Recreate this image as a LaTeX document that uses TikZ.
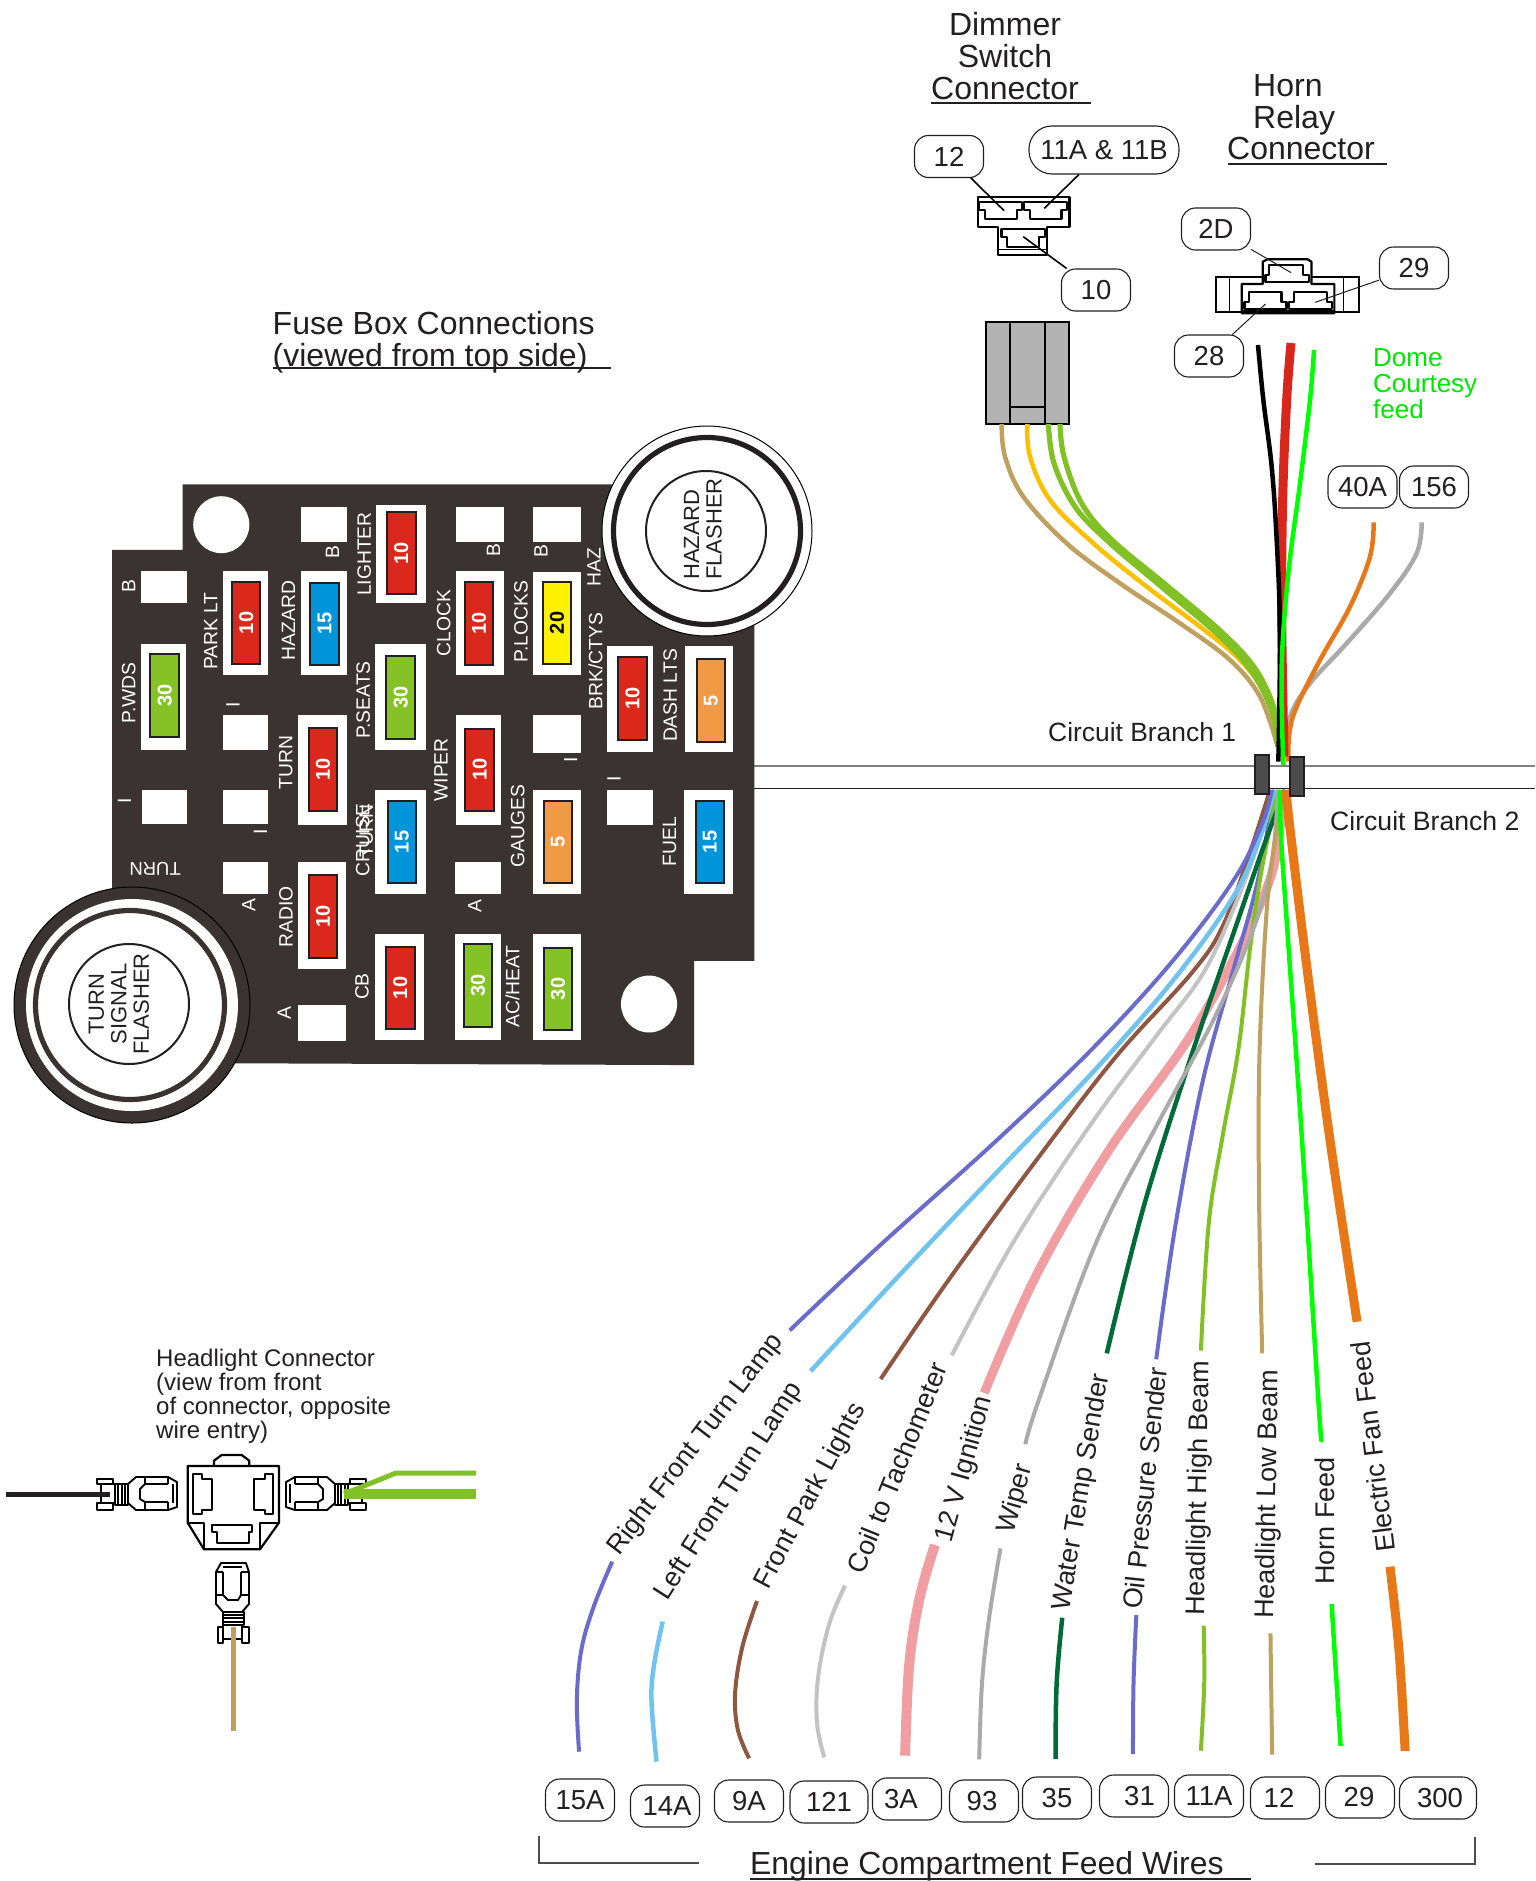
\documentclass[tikz,border=0pt]{standalone}
\usepackage{fontspec}
\setmainfont{Liberation Sans}
\definecolor{ink}{HTML}{231F20}
\definecolor{board}{HTML}{3A3331}
\definecolor{wpurple}{HTML}{6A6BCB}
\definecolor{wblue}{HTML}{6FC3EE}
\definecolor{wbrown}{HTML}{8F5641}
\definecolor{wlgray}{HTML}{C3C3C3}
\definecolor{wpink}{HTML}{F19EA3}
\definecolor{wgray}{HTML}{AAAAAA}
\definecolor{wdgreen}{HTML}{006B38}
\definecolor{wgreen}{HTML}{82C126}
\definecolor{wtan}{HTML}{BFA05F}
\definecolor{wbright}{HTML}{00FF00}
\definecolor{worange}{HTML}{E87817}
\definecolor{wred}{HTML}{D9261C}
\definecolor{wgold}{HTML}{FBC100}
\definecolor{fred}{HTML}{DA291C}
\definecolor{fblue}{HTML}{0095DA}
\definecolor{fyellow}{HTML}{FFF200}
\definecolor{forange}{HTML}{F09A46}
\definecolor{fgreen}{HTML}{84C225}
\definecolor{dome}{HTML}{00E600}
\definecolor{conn}{HTML}{B3B3B3}
\newcount\fusecnt
\newcommand{\fuseunit}[9]{%
  \global\advance\fusecnt by 1
  \fill[white] (#1,#2) rectangle (#3,#4);
  \draw[ink,line width=2pt,fill=#7] (#5,#6) rectangle ++(54,180);
  \node[fnum,text=#9] (fuse\the\fusecnt) at ({#5+27},{#6+90}) {#8};
}
\newcommand{\terminal}[1]{%
  \begin{scope}[#1,line width=1.9pt,draw=black,fill=white,line join=round]
    \filldraw (0,-12) -- (9,-17) -- (41,-17) -- (49,-10) -- (49,9) -- (41,16) -- (9,16) -- (0,13) -- cycle;
    \draw (9,-10) -- (32,-10) -- (37,-5) -- (37,5) -- (32,8) -- (9,8);
    \draw (32,-17) -- (32,-10) (32,8) -- (32,16) (4,-10) -- (4,9) (9,-17) -- (9,-10) (9,8) -- (9,16);
    \filldraw (49,-10) rectangle (62,11);
    \draw (52,-10) -- (52,11) (55,-10) -- (55,11) (59,-10) -- (59,11);
    \filldraw (64,-15) rectangle (80,-10);
    \filldraw (64,9) rectangle (80,16);
    \draw (76,-10) -- (76,9) (62,-10) -- (64,-10) (62,9) -- (64,9);
  \end{scope}%
}
\tikzset{
  zoneA/.style={shift={(0,420)},x=0.52938pt,y=-0.45914pt},
  zoneB/.style={shift={(900,0)},x=0.38270pt,y=-0.33333pt},
  zoneC/.style={shift={(0,1340)},x=0.33333pt,y=-0.33333pt},
  zoneF/.style={shift={(760,780)},x=0.39541pt,y=-0.39541pt},
  zoneG/.style={shift={(980,400)},x=0.33333pt,y=-0.33333pt},
  zoneH/.style={shift={(560,1300)},x=0.56117pt,y=-0.33333pt},
  tag/.style={draw=ink,fill=white,line width=1.1pt,rounded corners=14pt,minimum width=69pt,minimum height=42pt,inner sep=0pt,text=ink,font=\fontsize{27.5}{27.5}\selectfont},
  fnum/.style={rotate=90,inner sep=0pt,font=\fontsize{20}{20}\selectfont\bfseries},
  flab/.style={rotate=90,inner sep=0pt,text=white,font=\fontsize{19.3}{19.3}\selectfont},
  feed/.style={inner sep=0pt,text=ink,font=\fontsize{27}{27}\selectfont},
  flash/.style={rotate=90,inner sep=0pt,text=ink,font=\fontsize{22}{22.5}\selectfont},
  title/.style={inner sep=0pt,text=ink,align=center,font=\fontsize{32}{32}\selectfont},
  wire/.style={line cap=butt,line join=round},
  thin lead/.style={line width=1pt,ink},
  thick lead/.style={line width=1.6pt,black},
  shape line/.style={line width=2.2pt,black,line join=round},
}
\begin{document}
\begin{tikzpicture}[x=1pt,y=-1pt]
\useasboundingbox (0,0) rectangle (1535,1881);

% ---------- titles ----------
\node[title,anchor=north] (dimmer) at (1005,12) {Dimmer\\Switch\\Connector};
\draw[ink,line width=2pt] (931,103) -- (1091,103);
\node[title,anchor=north west,align=left] (hornA) at (1253,74) {Horn\\Relay};
\node[title,anchor=base west] (hornB) at (1227,160) {Connector};
\draw[ink,line width=2pt] (1228,164) -- (1387,164);
\node[title,anchor=north west,align=left] (fusebox) at (272.5,311) {Fuse Box Connections\\(viewed from top side)};
\draw[ink,line width=2pt] (273,368) -- (611,368);
\node[anchor=north west,align=left,inner sep=0pt,text=dome,font=\fontsize{26}{26}\selectfont] (domef) at (1373,348.5) {Dome\\Courtesy\\feed};
\node[anchor=base west,inner sep=0pt,text=ink,font=\fontsize{26.4}{26.4}\selectfont] (cb1) at (1048,741) {Circuit Branch 1};
\node[anchor=base west,inner sep=0pt,text=ink,font=\fontsize{26.6}{26.6}\selectfont] (cb2) at (1330,830) {Circuit Branch 2};
\node[anchor=north west,align=left,inner sep=0pt,text=ink,font=\fontsize{24}{24}\selectfont] (hltext) at (156,1349) {Headlight Connector\\(view from front\\of connector, opposite\\wire entry)};

% ---------- branch lines ----------
\draw[black!50,line width=1.5pt] (754,766) -- (1535,766);
\draw[ink,line width=1pt] (754,788) -- (1535,788);

% ---------- fuse box ----------
\begin{scope}[zoneA]
  \fill[board] (345,140) -- (1425,140) -- (1425,1178) -- (1311,1178) -- (1311,1405) -- (212,1400) -- (212,283) -- (345,283) -- cycle;
  \foreach \a/\b/\c/\d in {569/189/656/266,861/189/952/266,1007/189/1098/266,266/329/353/399,421/642/507/719,1007/642/1098/725,268/806/354/880,422/806/507/880,1147/806/1234/882,421/963/507/1032,860/963/946/1032,563/1275/654/1352}
    \fill[white] (\a,\b) rectangle (\c,\d);
  \fill[white] (418,228) ellipse [x radius=53,y radius=62];
  \fill[white] (1226,1272) ellipse [x radius=53,y radius=62];
  \fuseunit{266}{487}{351}{718}{284}{510}{fgreen}{30}{white}
  \fuseunit{421}{329}{507}{555}{438}{352}{fred}{10}{white}
  \fuseunit{569}{329}{656}{555}{586}{354}{fblue}{15}{white}
  \fuseunit{711}{186}{805}{399}{731}{200}{fred}{10}{white}
  \fuseunit{708}{487}{805}{718}{730}{514}{fgreen}{30}{white}
  \fuseunit{861}{329}{952}{555}{878}{353}{fred}{10}{white}
  \fuseunit{1007}{330}{1098}{555}{1025}{352}{fyellow}{20}{black}
  \fuseunit{1147}{492}{1234}{724}{1168}{516}{fred}{10}{white}
  \fuseunit{1294}{492}{1385}{724}{1316}{521}{forange}{5}{white}
  \fuseunit{563}{643}{655}{881}{583}{671}{fred}{10}{white}
  \fuseunit{861}{643}{946}{881}{879}{672}{fred}{10}{white}
  \fuseunit{708}{806}{805}{1032}{732}{829}{fblue}{15}{white}
  \fuseunit{1007}{806}{1098}{1032}{1027}{829}{forange}{5}{white}
  \fuseunit{1293}{806}{1385}{1032}{1314}{829}{fblue}{15}{white}
  \fuseunit{563}{963}{654}{1195}{583}{991}{fred}{10}{white}
  \fuseunit{709}{1119}{800}{1351}{729}{1147}{fred}{10}{white}
  \fuseunit{860}{1119}{946}{1351}{876}{1142}{fgreen}{30}{white}
  \fuseunit{1007}{1119}{1098}{1351}{1027}{1149}{fgreen}{30}{white}
  \node[flab] (lb1) at (243,362) {B};
  \node[flab] (lpw) at (243,594) {P.WDS};
  \node[flab] (lpk) at (398,460) {PARK LT};
  \node[flab] (li1) at (440,620) {I};
  \node[flab] (lb2) at (628,288) {B};
  \node[flab] (lhz) at (545,437) {HAZARD};
  \node[flab] (llg) at (688,292) {LIGHTER};
  \node[flab] (ltn) at (540,746) {TURN};
  \node[flab] (lps) at (686,610) {P.SEATS};
  \node[flab] (lck) at (838,442) {CLOCK};
  \node[flab] (lb3) at (932,284) {B};
  \node[flab] (lwp) at (833,762) {WIPER};
  \node[flab] (lpl) at (984,439) {P.LOCKS};
  \node[flab] (lb4) at (1022,285) {B};
  \node[flab] (lhs) at (1122,320) {HAZ};
  \node[flab] (lbr) at (1125,525) {BRK/CTYS};
  \node[flab] (lds) at (1266,600) {DASH LTS};
  \node[flab] (li2) at (1078,740) {I};
  \node[flab] (li3) at (1160,782) {I};
  \node[flab] (li4) at (235,830) {I};
  \node[flab] (li5) at (492,897) {I};
  \node[flab] (lga) at (978,884) {GAUGES};
  \node[flab] (lfu) at (1265,918) {FUEL};
  \node[inner sep=0pt,text=white,rotate=180,font=\fontsize{18.5}{18.5}\selectfont] (ltu) at (293,978) {TURN};
  \node[flab] (lcr) at (685,914) {CRUISE};
  \node[flab] (lt2) at (692,895) {TURN};
  \node[flab] (la1) at (470,1057) {A};
  \node[flab] (la2) at (897,1058) {A};
  \node[flab] (la3) at (537,1292) {A};
  \node[flab] (lra) at (540,1082) {RADIO};
  \node[flab] (lcb) at (684,1234) {CB};
  \node[flab] (lac) at (968,1234) {AC/HEAT};
\end{scope}

% flashers
\filldraw[fill=white,draw=black,line width=1pt] (707,531) circle (105);
\draw[ink,line width=5.2pt] (707,531) circle (93.5);
\draw[ink,line width=2pt] (706,531) circle (60);
\node[flash,align=left] (hazf) at (703,529) {HAZARD\\FLASHER};
\filldraw[fill=board,draw=black,line width=1pt] (132,1005) circle (118);
\fill[white] (132,1005) circle (106);
\draw[board,line width=5.2pt] (130,1005) circle (94.5);
\draw[ink,line width=2pt] (129,1004) circle (60);
\node[flash,align=center] (turnf) at (119,1004) {TURN\\SIGNAL\\FLASHER};

% ---------- dimmer connector ----------
\begin{scope}[zoneB]
  \draw[shape line] (203,590) -- (443,590) -- (443,682) -- (385,682) -- (385,765) -- (255,765) -- (255,682) -- (203,682) -- cycle;
  \draw[shape line] (207,605) -- (318,605) -- (318,630) -- (305,630) -- (305,658) -- (222,658) -- (222,630) -- (207,630) -- cycle;
  \draw[shape line] (325,605) -- (437,605) -- (437,630) -- (422,630) -- (422,658) -- (340,658) -- (340,630) -- (325,630) -- cycle;
  \draw[shape line] (265,687) -- (378,687) -- (378,712) -- (363,712) -- (363,740) -- (280,740) -- (280,712) -- (265,712) -- cycle;
  \draw[line width=1.5pt] (255,748) -- (385,748);
  \coordinate (p12) at (272,632);
  \coordinate (p11) at (377,625);
  \coordinate (p10) at (322,710);
  % gray plug
  \filldraw[fill=conn,draw=black,line width=2pt] (224,967) rectangle (442,1272);
  \draw[black,line width=2pt] (288,967) -- (288,1272) (380,967) -- (380,1272) (288,1222) -- (380,1222);
  % horn relay connector
  \draw[line width=2pt,black] (825,832) rectangle (1198,935);
  \draw[line width=1pt,black] (860,832) -- (860,935) (1158,832) -- (1158,935);
  \filldraw[shape line,fill=white] (893,940) -- (893,852) -- (948,852) -- (948,785) -- (960,778) -- (1065,778) -- (1075,785) -- (1075,852) -- (1135,852) -- (1135,940) -- cycle;
  \draw[shape line] (955,845) -- (955,825) -- (965,825) -- (965,795) -- (1052,795) -- (1052,825) -- (1068,825) -- (1068,845) -- cycle;
  \draw[shape line] (900,927) -- (900,905) -- (912,905) -- (912,875) -- (997,875) -- (997,905) -- (1010,905) -- (1010,927) -- cycle;
  \draw[shape line] (1017,927) -- (1017,905) -- (1030,905) -- (1030,875) -- (1115,875) -- (1115,905) -- (1128,905) -- (1128,927) -- cycle;
  \draw[black,line width=3.5pt] (893,936) -- (1135,936);
  \coordinate (p2d) at (1022,818);
  \coordinate (p29) at (1085,907);
  \coordinate (p28) at (955,912);
\end{scope}

% ---------- callouts ----------
\node[tag] (t12a) at (949,156.5) {12};
\node[tag,minimum width=150pt,minimum height=48pt,rounded corners=23pt] (t11) at (1104,150) {11A \& 11B};
\node[tag] (t10) at (1096,290) {10};
\node[tag] (t2d) at (1216,229) {2D};
\node[tag] (t29a) at (1414,268) {29};
\node[tag] (t28) at (1209,356) {28};
\node[tag] (t40) at (1362.5,487) {40A};
\node[tag] (t156) at (1434,487) {156};
\draw[thick lead] (t12a) -- (p12);
\draw[thick lead] (t11) -- (p11);
\draw[thick lead] (t10) -- (p10);
\draw[thin lead] (t2d) -- (p2d);
\draw[thin lead] (t29a) -- (p29);
\draw[thin lead] (t28) -- (p28);

\node[tag] (t15) at (580,1800) {15A};
\node[tag] (t14) at (665,1806) {\kern4pt 14A};
\node[tag] (t9) at (749,1801) {9A};
\node[tag,minimum width=78pt] (t121) at (829,1802) {121};
\node[tag] (t3) at (907,1799) {3A\kern12pt};
\node[tag] (t93) at (984,1801) {93\kern4pt};
\node[tag] (t35) at (1057,1798) {35};
\node[tag] (t31) at (1134,1796) {\kern11pt 31};
\node[tag] (t11a) at (1209,1796) {11A};
\node[tag] (t12b) at (1285,1798) {12\kern12pt};
\node[tag] (t29b) at (1360,1797) {29\kern2pt};
\node[tag,minimum width=77pt] (t300) at (1438,1798) {\kern4pt 300};

% bracket and title
\draw[ink!80,line width=1.3pt] (539,1836) -- (539,1863) -- (699,1863);
\draw[ink!80,line width=1.3pt] (1475,1837) -- (1475,1864) -- (1315,1864);
\node[inner sep=0pt,anchor=base west,text=ink,font=\fontsize{31.9}{31.9}\selectfont] (engine) at (750,1874) {Engine Compartment Feed Wires};
\draw[ink,line width=2pt] (750,1879) -- (1251,1879);

% ---------- upper wires ----------
\begin{scope}[zoneG,wire]
  \draw[wtan,line width=4.5pt] plot[smooth,tension=.6] coordinates {(65,72)(75,170)(130,290)(260,430)(420,550)(600,670)(750,780)(840,890)(890,1030)};
  \draw[wgold,line width=4.5pt] plot[smooth,tension=.6] coordinates {(142,72)(150,170)(210,300)(340,430)(500,560)(660,680)(780,780)(860,890)(895,1030)};
  \draw[wgreen,line width=5.2pt] plot[smooth,tension=.6] coordinates {(205,72)(222,190)(285,320)(385,425)(550,565)(715,705)(815,815)(876,935)(893,1040)};
  \draw[wgreen,line width=5.2pt] plot[smooth,tension=.6] coordinates {(240,72)(252,170)(305,310)(396,420)(562,558)(727,698)(827,808)(884,930)(899,1040)};
  \draw[wgray,line width=4.5pt] plot[smooth,tension=.6] coordinates {(1325,367)(1310,460)(1230,580)(1100,730)(990,850)(930,950)(922,1050)};
  \draw[worange,line width=4.5pt] plot[smooth,tension=.6] coordinates {(1181,367)(1170,470)(1110,620)(1020,780)(950,920)(928,1000)(925,1085)};
  \draw[wred,line width=9pt] plot[smooth,tension=.6] coordinates {(933,-171)(920,0)(908,300)(905,650)(912,1070)};
  \draw[black,line width=4.5pt] plot[smooth,tension=.6] coordinates {(834,-165)(850,0)(875,200)(890,420)(900,700)(895,1085)};
  \draw[wbright,line width=4.5pt] plot[smooth,tension=.6] coordinates {(1002,-150)(990,0)(960,250)(925,520)(905,800)(910,1095)};
\end{scope}

% ---------- fan-out wires ----------
\begin{scope}[zoneF,wire]
  \draw[wbrown,line width=4pt] plot[smooth,tension=.6] coordinates {(305,1515)(480,1260)(700,960)(900,700)(1090,490)(1170,370)(1240,180)(1290,25)};
  \draw[wlgray,line width=4pt] plot[smooth,tension=.6] coordinates {(485,1455)(640,1170)(830,880)(1000,650)(1120,490)(1200,320)(1260,160)(1300,25)};
  \draw[wpink,line width=9pt] plot[smooth,tension=.6] coordinates {(567,1550)(700,1250)(880,940)(1080,660)(1210,430)(1290,250)(1315,120)(1320,25)};
  \draw[wpurple,line width=4pt] plot[smooth,tension=.6] coordinates {(1002,1465)(1050,1130)(1120,760)(1200,470)(1260,250)(1300,25)};
  \draw[wgreen,line width=4pt] plot[smooth,tension=.6] coordinates {(1115,1443)(1135,1120)(1170,900)(1210,680)(1240,420)(1270,220)(1310,25)};
  \draw[wdgreen,line width=4.5pt] plot[smooth,tension=.6] coordinates {(877,1450)(970,1080)(1090,700)(1200,380)(1280,150)(1328,25)};
  \draw[wgray,line width=4pt] plot[smooth,tension=.6] coordinates {(671,1680)(705,1568)(850,1170)(1000,880)(1150,600)(1250,370)(1295,200)(1310,25)};
  \draw[wtan,line width=4pt] plot[smooth,tension=.6] coordinates {(1270,1450)(1262,1050)(1263,700)(1280,350)(1300,170)(1325,25)};
  \draw[wblue,line width=4.5pt] plot[smooth,tension=.6] coordinates {(128,1495)(350,1255)(620,970)(850,730)(1050,500)(1200,290)(1270,130)(1300,25)};
  \draw[wpurple,line width=4pt] plot[smooth,tension=.6] coordinates {(75,1392)(300,1180)(600,910)(850,670)(1050,450)(1200,250)(1270,110)(1295,25)};
  \draw[wbright,line width=4.5pt] plot[smooth,tension=.6] coordinates {(1420,1668)(1412,1568)(1370,900)(1335,400)(1318,150)(1315,25)};
  \draw[worange,line width=9pt] plot[smooth,tension=.6] coordinates {(1510,1370)(1440,900)(1380,450)(1340,120)(1330,25)};
\end{scope}

% blocks
\filldraw[fill=black!70,draw=ink,line width=2.5pt] (1255,755) rectangle (1269,794);
\filldraw[fill=black!70,draw=ink,line width=2.5pt] (1290,757) rectangle (1304,796);

% ---------- feed labels ----------
\node[feed,rotate=52.5] (n1) at (696,1445) {Right Front Turn Lamp};
\node[feed,rotate=57.5] (n2) at (729,1491.5) {Left Front Turn Lamp};
\node[feed,rotate=62] (n3) at (811,1496.5) {Front Park Lights};
\node[feed,rotate=68] (n4) at (897,1468) {Coil to Tachometer};
\node[feed,rotate=74.5] (n5) at (965,1469) {12 V Ignition};
\node[feed,rotate=74] (n6) at (1016,1499) {Wiper};
\node[feed,rotate=80.5] (n7) at (1082,1492) {Water Temp Sender};
\node[feed,rotate=84] (n8) at (1145,1488) {Oil Pressure Sender};
\node[feed,rotate=89] (n9) at (1199.5,1488) {Headlight High Beam};
\node[feed,rotate=89] (n10) at (1269,1494) {Headlight Low Beam};
\node[feed,rotate=90] (n11) at (1325,1521) {Horn Feed};
\node[feed,rotate=97] (n12) at (1372.6,1447) {Electric Fan Feed};

% ---------- lower stubs ----------
\begin{scope}[zoneH,wire]
  \draw[wpurple,line width=4pt] plot[smooth,tension=.6] coordinates {(93,785)(60,920)(38,1050)(30,1200)(34,1355)};
  \draw[wblue,line width=4.5pt] plot[smooth,tension=.6] coordinates {(183,965)(168,1090)(163,1200)(172,1385)};
  \draw[wbrown,line width=4pt] plot[smooth,tension=.6] coordinates {(351,903)(325,1040)(312,1180)(317,1290)(337,1375)};
  \draw[wlgray,line width=4pt] plot[smooth,tension=.6] coordinates {(508,857)(480,970)(460,1130)(458,1270)(471,1372)};
  \draw[wpink,line width=10pt] plot[smooth,tension=.6] coordinates {(668,735)(640,900)(622,1100)(615,1367)};
  \draw[wgray,line width=4pt] plot[smooth,tension=.6] coordinates {(785,745)(765,950)(752,1150)(747,1378)};
  \draw[wdgreen,line width=4.5pt] plot[smooth,tension=.6] coordinates {(895,953)(885,1150)(883,1377)};
  \draw[wpurple,line width=4pt] plot[smooth,tension=.6] coordinates {(1027,945)(1022,1150)(1021,1362)};
  \draw[wgreen,line width=4pt] plot[smooth,tension=.6] coordinates {(1147,977)(1148,1150)(1142,1352)};
  \draw[wtan,line width=4pt] (1266,1000) -- (1269,1364);
  \draw[wbright,line width=4.5pt] plot[smooth,tension=.6] coordinates {(1375,912)(1382,1100)(1391,1338)};
  \draw[worange,line width=9pt] plot[smooth,tension=.6] coordinates {(1479,800)(1495,1050)(1506,1353)};
\end{scope}

% ---------- headlight connector ----------
\begin{scope}[zoneC,shape line]
  \draw (642,375) -- (642,362) -- (665,345) -- (725,345) -- (748,362) -- (748,375);
  \draw (563,378) -- (837,378) -- (837,548) -- (780,628) -- (612,628) -- (563,548) -- cycle;
  \draw (580,402) -- (605,402) -- (605,418) -- (636,418) -- (636,510) -- (605,510) -- (605,522) -- (580,522) -- cycle;
  \draw (820,402) -- (795,402) -- (795,418) -- (763,418) -- (763,510) -- (795,510) -- (795,522) -- (820,522) -- cycle;
  \draw (563,548) -- (612,548) -- (612,628) (837,548) -- (780,548) -- (780,628);
  \draw (635,555) -- (757,555) -- (757,575) -- (748,575) -- (748,610) -- (650,610) -- (650,575) -- (635,575) -- cycle;
\end{scope}
\terminal{shift={(177,1494)},xscale=-1}
\terminal{shift={(286,1494)}}
\terminal{cm={0,-1,-1,0,(233,1563)}}
\draw[ink,line width=5pt] (6,1494) -- (110,1494);
\draw[wtan,line width=5pt] (233,1627) -- (233,1731);
\draw[wgreen,line width=10pt] (344,1494) -- (476,1494);
\draw[wgreen,line width=5pt,line join=bevel] (344,1494) -- (396,1473) -- (476,1473);
\end{tikzpicture}
\end{document}
